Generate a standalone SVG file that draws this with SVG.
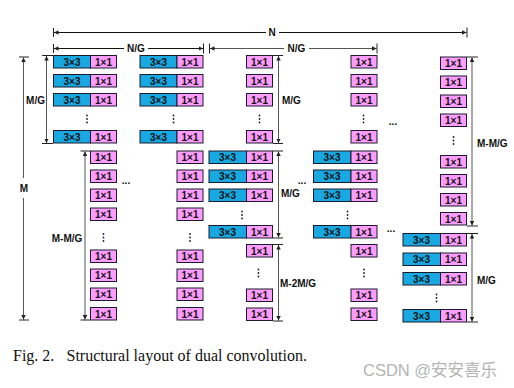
<svg xmlns="http://www.w3.org/2000/svg" width="514" height="388" viewBox="0 0 514 388">
<style>
.b{fill:#18a8e2;stroke:#1b1b2b;stroke-width:1}
.p{fill:#ff9cff;stroke:#1b1b2b;stroke-width:1}
.t{font-family:"Liberation Sans",Arial,sans-serif;font-weight:bold;font-size:10px;text-anchor:middle;fill:#111}
.l{font-family:"Liberation Sans",Arial,sans-serif;font-weight:bold;font-size:10px;fill:#111}
.lm{font-family:"Liberation Sans",Arial,sans-serif;font-weight:bold;font-size:10px;fill:#111;text-anchor:middle}
.d{stroke:#555;stroke-width:1;fill:none;marker-start:url(#ah);marker-end:url(#ah)}
.dk{stroke:#111;stroke-width:1;fill:none;marker-start:url(#ah);marker-end:url(#ah)}
.tk{stroke:#222;stroke-width:1}
.dot{fill:#1b1b3b}
.cap{font-family:"Liberation Serif","Times New Roman",serif;font-size:16px;fill:#111}
.wm{font-family:"Liberation Sans","Noto Sans CJK SC",sans-serif;font-size:16.5px;fill:#b4b4b4}
</style>
<defs>
<marker id="ah" viewBox="0 0 6 6" refX="6" refY="3" markerWidth="4.5" markerHeight="4.5" markerUnits="userSpaceOnUse" orient="auto-start-reverse">
<path d="M0,0 L6,3 L0,6 z" fill="#222"/>
</marker>
</defs>
<rect width="514" height="388" fill="#fff"/>

<!-- Column 1 upper -->
<g id="c1-u1" transform="translate(53.5,55.5)"><rect class="b" width="37" height="12.5"/><rect class="p" x="37" width="26" height="12.5"/><text class="t" x="18.5" y="10">3×3</text><text class="t" x="50" y="10">1×1</text></g>
<g id="c1-u2" transform="translate(53.5,74.5)"><rect class="b" width="37" height="12.5"/><rect class="p" x="37" width="26" height="12.5"/><text class="t" x="18.5" y="10">3×3</text><text class="t" x="50" y="10">1×1</text></g>
<g id="c1-u3" transform="translate(53.5,93.5)"><rect class="b" width="37" height="12.5"/><rect class="p" x="37" width="26" height="12.5"/><text class="t" x="18.5" y="10">3×3</text><text class="t" x="50" y="10">1×1</text></g>
<g id="c1-u4" transform="translate(53.5,130.5)"><rect class="b" width="37" height="12.5"/><rect class="p" x="37" width="26" height="12.5"/><text class="t" x="18.5" y="10">3×3</text><text class="t" x="50" y="10">1×1</text></g>
<!-- Column 2 upper -->
<g id="c2-u1" transform="translate(140,55.5)"><rect class="b" width="37" height="12.5"/><rect class="p" x="37" width="26" height="12.5"/><text class="t" x="18.5" y="10">3×3</text><text class="t" x="50" y="10">1×1</text></g>
<g id="c2-u2" transform="translate(140,74.5)"><rect class="b" width="37" height="12.5"/><rect class="p" x="37" width="26" height="12.5"/><text class="t" x="18.5" y="10">3×3</text><text class="t" x="50" y="10">1×1</text></g>
<g id="c2-u3" transform="translate(140,93.5)"><rect class="b" width="37" height="12.5"/><rect class="p" x="37" width="26" height="12.5"/><text class="t" x="18.5" y="10">3×3</text><text class="t" x="50" y="10">1×1</text></g>
<g id="c2-u4" transform="translate(140,130.5)"><rect class="b" width="37" height="12.5"/><rect class="p" x="37" width="26" height="12.5"/><text class="t" x="18.5" y="10">3×3</text><text class="t" x="50" y="10">1×1</text></g>
<!-- Column 3 upper -->
<g id="c3-u1" transform="translate(246.5,55.5)"><rect class="p" width="26" height="12.5"/><text class="t" x="13" y="10">1×1</text></g>
<g id="c3-u2" transform="translate(246.5,74.5)"><rect class="p" width="26" height="12.5"/><text class="t" x="13" y="10">1×1</text></g>
<g id="c3-u3" transform="translate(246.5,93.5)"><rect class="p" width="26" height="12.5"/><text class="t" x="13" y="10">1×1</text></g>
<g id="c3-u4" transform="translate(246.5,130.5)"><rect class="p" width="26" height="12.5"/><text class="t" x="13" y="10">1×1</text></g>
<!-- Column 4 upper -->
<g id="c4-u1" transform="translate(351,55.5)"><rect class="p" width="26" height="12.5"/><text class="t" x="13" y="10">1×1</text></g>
<g id="c4-u2" transform="translate(351,74.5)"><rect class="p" width="26" height="12.5"/><text class="t" x="13" y="10">1×1</text></g>
<g id="c4-u3" transform="translate(351,93.5)"><rect class="p" width="26" height="12.5"/><text class="t" x="13" y="10">1×1</text></g>
<g id="c4-u4" transform="translate(351,130.5)"><rect class="p" width="26" height="12.5"/><text class="t" x="13" y="10">1×1</text></g>

<!-- Column 1 lower -->
<g id="c1-l1" transform="translate(90.5,151)"><rect class="p" width="26" height="12.5"/><text class="t" x="13" y="10">1×1</text></g>
<g id="c1-l2" transform="translate(90.5,170)"><rect class="p" width="26" height="12.5"/><text class="t" x="13" y="10">1×1</text></g>
<g id="c1-l3" transform="translate(90.5,189)"><rect class="p" width="26" height="12.5"/><text class="t" x="13" y="10">1×1</text></g>
<g id="c1-l4" transform="translate(90.5,208)"><rect class="p" width="26" height="12.5"/><text class="t" x="13" y="10">1×1</text></g>
<g id="c1-l5" transform="translate(90.5,250)"><rect class="p" width="26" height="12.5"/><text class="t" x="13" y="10">1×1</text></g>
<g id="c1-l6" transform="translate(90.5,269)"><rect class="p" width="26" height="12.5"/><text class="t" x="13" y="10">1×1</text></g>
<g id="c1-l7" transform="translate(90.5,288)"><rect class="p" width="26" height="12.5"/><text class="t" x="13" y="10">1×1</text></g>
<g id="c1-l8" transform="translate(90.5,307.5)"><rect class="p" width="26" height="12.5"/><text class="t" x="13" y="10">1×1</text></g>
<!-- Column 2 lower -->
<g id="c2-l1" transform="translate(177,151)"><rect class="p" width="26" height="12.5"/><text class="t" x="13" y="10">1×1</text></g>
<g id="c2-l2" transform="translate(177,170)"><rect class="p" width="26" height="12.5"/><text class="t" x="13" y="10">1×1</text></g>
<g id="c2-l3" transform="translate(177,189)"><rect class="p" width="26" height="12.5"/><text class="t" x="13" y="10">1×1</text></g>
<g id="c2-l4" transform="translate(177,208)"><rect class="p" width="26" height="12.5"/><text class="t" x="13" y="10">1×1</text></g>
<g id="c2-l5" transform="translate(177,250)"><rect class="p" width="26" height="12.5"/><text class="t" x="13" y="10">1×1</text></g>
<g id="c2-l6" transform="translate(177,269)"><rect class="p" width="26" height="12.5"/><text class="t" x="13" y="10">1×1</text></g>
<g id="c2-l7" transform="translate(177,288)"><rect class="p" width="26" height="12.5"/><text class="t" x="13" y="10">1×1</text></g>
<g id="c2-l8" transform="translate(177,307.5)"><rect class="p" width="26" height="12.5"/><text class="t" x="13" y="10">1×1</text></g>

<!-- Column 3 middle/lower -->
<g id="c3-m1" transform="translate(209,151)"><rect class="b" width="37.5" height="12.5"/><rect class="p" x="37.5" width="26" height="12.5"/><text class="t" x="18.5" y="10">3×3</text><text class="t" x="50.5" y="10">1×1</text></g>
<g id="c3-m2" transform="translate(209,170)"><rect class="b" width="37.5" height="12.5"/><rect class="p" x="37.5" width="26" height="12.5"/><text class="t" x="18.5" y="10">3×3</text><text class="t" x="50.5" y="10">1×1</text></g>
<g id="c3-m3" transform="translate(209,189)"><rect class="b" width="37.5" height="12.5"/><rect class="p" x="37.5" width="26" height="12.5"/><text class="t" x="18.5" y="10">3×3</text><text class="t" x="50.5" y="10">1×1</text></g>
<g id="c3-m4" transform="translate(209,225.5)"><rect class="b" width="37.5" height="12.5"/><rect class="p" x="37.5" width="26" height="12.5"/><text class="t" x="18.5" y="10">3×3</text><text class="t" x="50.5" y="10">1×1</text></g>
<g id="c3-l1" transform="translate(246.5,244.5)"><rect class="p" width="26" height="12.5"/><text class="t" x="13" y="10">1×1</text></g>
<g id="c3-l2" transform="translate(246.5,289)"><rect class="p" width="26" height="12.5"/><text class="t" x="13" y="10">1×1</text></g>
<g id="c3-l3" transform="translate(246.5,308)"><rect class="p" width="26" height="12.5"/><text class="t" x="13" y="10">1×1</text></g>
<!-- Column 4 middle/lower -->
<g id="c4-m1" transform="translate(313.5,151)"><rect class="b" width="37.5" height="12.5"/><rect class="p" x="37.5" width="26" height="12.5"/><text class="t" x="18.5" y="10">3×3</text><text class="t" x="50.5" y="10">1×1</text></g>
<g id="c4-m2" transform="translate(313.5,170)"><rect class="b" width="37.5" height="12.5"/><rect class="p" x="37.5" width="26" height="12.5"/><text class="t" x="18.5" y="10">3×3</text><text class="t" x="50.5" y="10">1×1</text></g>
<g id="c4-m3" transform="translate(313.5,189)"><rect class="b" width="37.5" height="12.5"/><rect class="p" x="37.5" width="26" height="12.5"/><text class="t" x="18.5" y="10">3×3</text><text class="t" x="50.5" y="10">1×1</text></g>
<g id="c4-m4" transform="translate(313.5,225.5)"><rect class="b" width="37.5" height="12.5"/><rect class="p" x="37.5" width="26" height="12.5"/><text class="t" x="18.5" y="10">3×3</text><text class="t" x="50.5" y="10">1×1</text></g>
<g id="c4-l1" transform="translate(351,244.5)"><rect class="p" width="26" height="12.5"/><text class="t" x="13" y="10">1×1</text></g>
<g id="c4-l2" transform="translate(351,289)"><rect class="p" width="26" height="12.5"/><text class="t" x="13" y="10">1×1</text></g>
<g id="c4-l3" transform="translate(351,308)"><rect class="p" width="26" height="12.5"/><text class="t" x="13" y="10">1×1</text></g>

<!-- Column 5 -->
<g id="c5-u1" transform="translate(440.5,57)"><rect class="p" width="26" height="12.5"/><text class="t" x="13" y="10">1×1</text></g>
<g id="c5-u2" transform="translate(440.5,76)"><rect class="p" width="26" height="12.5"/><text class="t" x="13" y="10">1×1</text></g>
<g id="c5-u3" transform="translate(440.5,95)"><rect class="p" width="26" height="12.5"/><text class="t" x="13" y="10">1×1</text></g>
<g id="c5-u4" transform="translate(440.5,114)"><rect class="p" width="26" height="12.5"/><text class="t" x="13" y="10">1×1</text></g>
<g id="c5-u5" transform="translate(440.5,155.5)"><rect class="p" width="26" height="12.5"/><text class="t" x="13" y="10">1×1</text></g>
<g id="c5-u6" transform="translate(440.5,174.5)"><rect class="p" width="26" height="12.5"/><text class="t" x="13" y="10">1×1</text></g>
<g id="c5-u7" transform="translate(440.5,193.5)"><rect class="p" width="26" height="12.5"/><text class="t" x="13" y="10">1×1</text></g>
<g id="c5-u8" transform="translate(440.5,212.5)"><rect class="p" width="26" height="12.5"/><text class="t" x="13" y="10">1×1</text></g>
<g id="c5-l1" transform="translate(403,233.5)"><rect class="b" width="37.5" height="12.5"/><rect class="p" x="37.5" width="26" height="12.5"/><text class="t" x="18.5" y="10">3×3</text><text class="t" x="50.5" y="10">1×1</text></g>
<g id="c5-l2" transform="translate(403,253)"><rect class="b" width="37.5" height="12.5"/><rect class="p" x="37.5" width="26" height="12.5"/><text class="t" x="18.5" y="10">3×3</text><text class="t" x="50.5" y="10">1×1</text></g>
<g id="c5-l3" transform="translate(403,272.5)"><rect class="b" width="37.5" height="12.5"/><rect class="p" x="37.5" width="26" height="12.5"/><text class="t" x="18.5" y="10">3×3</text><text class="t" x="50.5" y="10">1×1</text></g>
<g id="c5-l4" transform="translate(403,309.5)"><rect class="b" width="37.5" height="12.5"/><rect class="p" x="37.5" width="26" height="12.5"/><text class="t" x="18.5" y="10">3×3</text><text class="t" x="50.5" y="10">1×1</text></g>

<!-- Ellipsis dots -->
<g id="dots">
<g class="dot">
<circle cx="87" cy="115.5" r="0.9"/><circle cx="87" cy="119" r="0.9"/><circle cx="87" cy="122.5" r="0.9"/>
<circle cx="173.5" cy="115.5" r="0.9"/><circle cx="173.5" cy="119" r="0.9"/><circle cx="173.5" cy="122.5" r="0.9"/>
<circle cx="259.5" cy="115.5" r="0.9"/><circle cx="259.5" cy="119" r="0.9"/><circle cx="259.5" cy="122.5" r="0.9"/>
<circle cx="363.5" cy="115.5" r="0.9"/><circle cx="363.5" cy="119" r="0.9"/><circle cx="363.5" cy="122.5" r="0.9"/>
<circle cx="453.5" cy="137" r="0.9"/><circle cx="453.5" cy="140.5" r="0.9"/><circle cx="453.5" cy="144" r="0.9"/>
<circle cx="103.5" cy="234" r="0.9"/><circle cx="103.5" cy="237.5" r="0.9"/><circle cx="103.5" cy="241" r="0.9"/>
<circle cx="190" cy="234" r="0.9"/><circle cx="190" cy="237.5" r="0.9"/><circle cx="190" cy="241" r="0.9"/>
<circle cx="242" cy="211.5" r="0.9"/><circle cx="242" cy="215" r="0.9"/><circle cx="242" cy="218.5" r="0.9"/>
<circle cx="347.5" cy="211.5" r="0.9"/><circle cx="347.5" cy="215" r="0.9"/><circle cx="347.5" cy="218.5" r="0.9"/>
<circle cx="258.5" cy="269.5" r="0.9"/><circle cx="258.5" cy="273" r="0.9"/><circle cx="258.5" cy="276.5" r="0.9"/>
<circle cx="364" cy="269.5" r="0.9"/><circle cx="364" cy="273" r="0.9"/><circle cx="364" cy="276.5" r="0.9"/>
<circle cx="436.5" cy="294.5" r="0.9"/><circle cx="436.5" cy="298" r="0.9"/><circle cx="436.5" cy="301.5" r="0.9"/>
</g>
<text class="lm" x="126" y="184">...</text>
<text class="lm" x="302" y="184">...</text>
<text class="lm" x="393" y="125">...</text>
<text class="lm" x="391" y="231.5">...</text>
</g>

<!-- Connectors / dimension lines -->
<g id="connectors">
<!-- N -->
<line class="dk" x1="54" y1="32.5" x2="266" y2="32.5" style="marker-end:none"/>
<line class="dk" x1="279" y1="32.5" x2="466.5" y2="32.5" style="marker-start:none"/>
<line class="tk" x1="53.5" y1="28" x2="53.5" y2="37"/>
<line class="tk" x1="467" y1="27.5" x2="467" y2="37.5"/>
<!-- N/G first -->
<line class="dk" x1="54" y1="48.5" x2="124" y2="48.5" style="marker-end:none"/>
<line class="dk" x1="148" y1="48.5" x2="203" y2="48.5" style="marker-start:none"/>
<line class="tk" x1="53.5" y1="44" x2="53.5" y2="53"/>
<line class="tk" x1="203.5" y1="43.5" x2="203.5" y2="53.5"/>
<!-- N/G second -->
<line class="d" x1="210" y1="48.5" x2="284" y2="48.5" style="marker-end:none"/>
<line class="d" x1="309" y1="48.5" x2="376.5" y2="48.5" style="marker-start:none"/>
<line class="tk" x1="209.5" y1="43.5" x2="209.5" y2="53.5"/>
<line class="tk" x1="377" y1="43.5" x2="377" y2="53.5"/>
<!-- M -->
<line class="d" x1="23.5" y1="57.5" x2="23.5" y2="178" style="marker-end:none"/>
<line class="d" x1="23.5" y1="198" x2="23.5" y2="319.5" style="marker-start:none"/>
<line class="tk" x1="19" y1="57" x2="29" y2="57"/>
<line class="tk" x1="19" y1="320" x2="29" y2="320"/>
<!-- M/G col1 -->
<line class="d" x1="46.5" y1="56" x2="46.5" y2="143"/>
<line class="tk" x1="42" y1="55.5" x2="53" y2="55.5"/>
<line class="tk" x1="42" y1="143.5" x2="53" y2="143.5"/>
<!-- M-M/G col1 -->
<line class="d" x1="85" y1="151.5" x2="85" y2="319.5"/>
<line class="tk" x1="80.5" y1="151" x2="90" y2="151"/>
<line class="tk" x1="80.5" y1="320" x2="90" y2="320"/>
<!-- col3 dims -->
<line class="d" x1="278.5" y1="56" x2="278.5" y2="143"/>
<line class="tk" x1="273" y1="55.5" x2="283" y2="55.5"/>
<line class="tk" x1="273" y1="143.5" x2="283" y2="143.5"/>
<line class="d" x1="278.5" y1="151.5" x2="278.5" y2="237.5"/>
<line class="tk" x1="273" y1="151" x2="283" y2="151"/>
<line class="tk" x1="273" y1="238" x2="283" y2="238"/>
<line class="d" x1="278.5" y1="245" x2="278.5" y2="320.5"/>
<line class="tk" x1="273" y1="244.5" x2="283" y2="244.5"/>
<line class="tk" x1="273" y1="321" x2="283" y2="321"/>
<!-- col5 dims -->
<line class="d" x1="472" y1="57.5" x2="472" y2="225.5"/>
<line class="tk" x1="467" y1="57" x2="478" y2="57"/>
<line class="tk" x1="467" y1="226" x2="478" y2="226"/>
<line class="d" x1="472" y1="234" x2="472" y2="321.5"/>
<line class="tk" x1="467" y1="233.5" x2="478" y2="233.5"/>
<line class="tk" x1="467" y1="322" x2="478" y2="322"/>
</g>

<!-- Labels -->
<g id="labels">
<text class="lm" x="272" y="36">N</text>
<text class="lm" x="136" y="52">N/G</text>
<text class="lm" x="296.5" y="52">N/G</text>
<text class="lm" x="24" y="191.5">M</text>
<text class="lm" x="35.5" y="103.5">M/G</text>
<text class="lm" x="67" y="241.5">M-M/G</text>
<text class="l" x="282" y="103.5">M/G</text>
<text class="l" x="281" y="196.5">M/G</text>
<text class="l" x="280" y="287">M-2M/G</text>
<text class="l" x="477" y="146.5">M-M/G</text>
<text class="l" x="477" y="283.5">M/G</text>
</g>

<text class="cap" x="13" y="360.5"><tspan>Fig. 2.</tspan><tspan x="66.5">Structural layout of dual convolution.</tspan></text>
<text class="wm" x="363" y="375.5">CSDN @安安喜乐</text>
</svg>
